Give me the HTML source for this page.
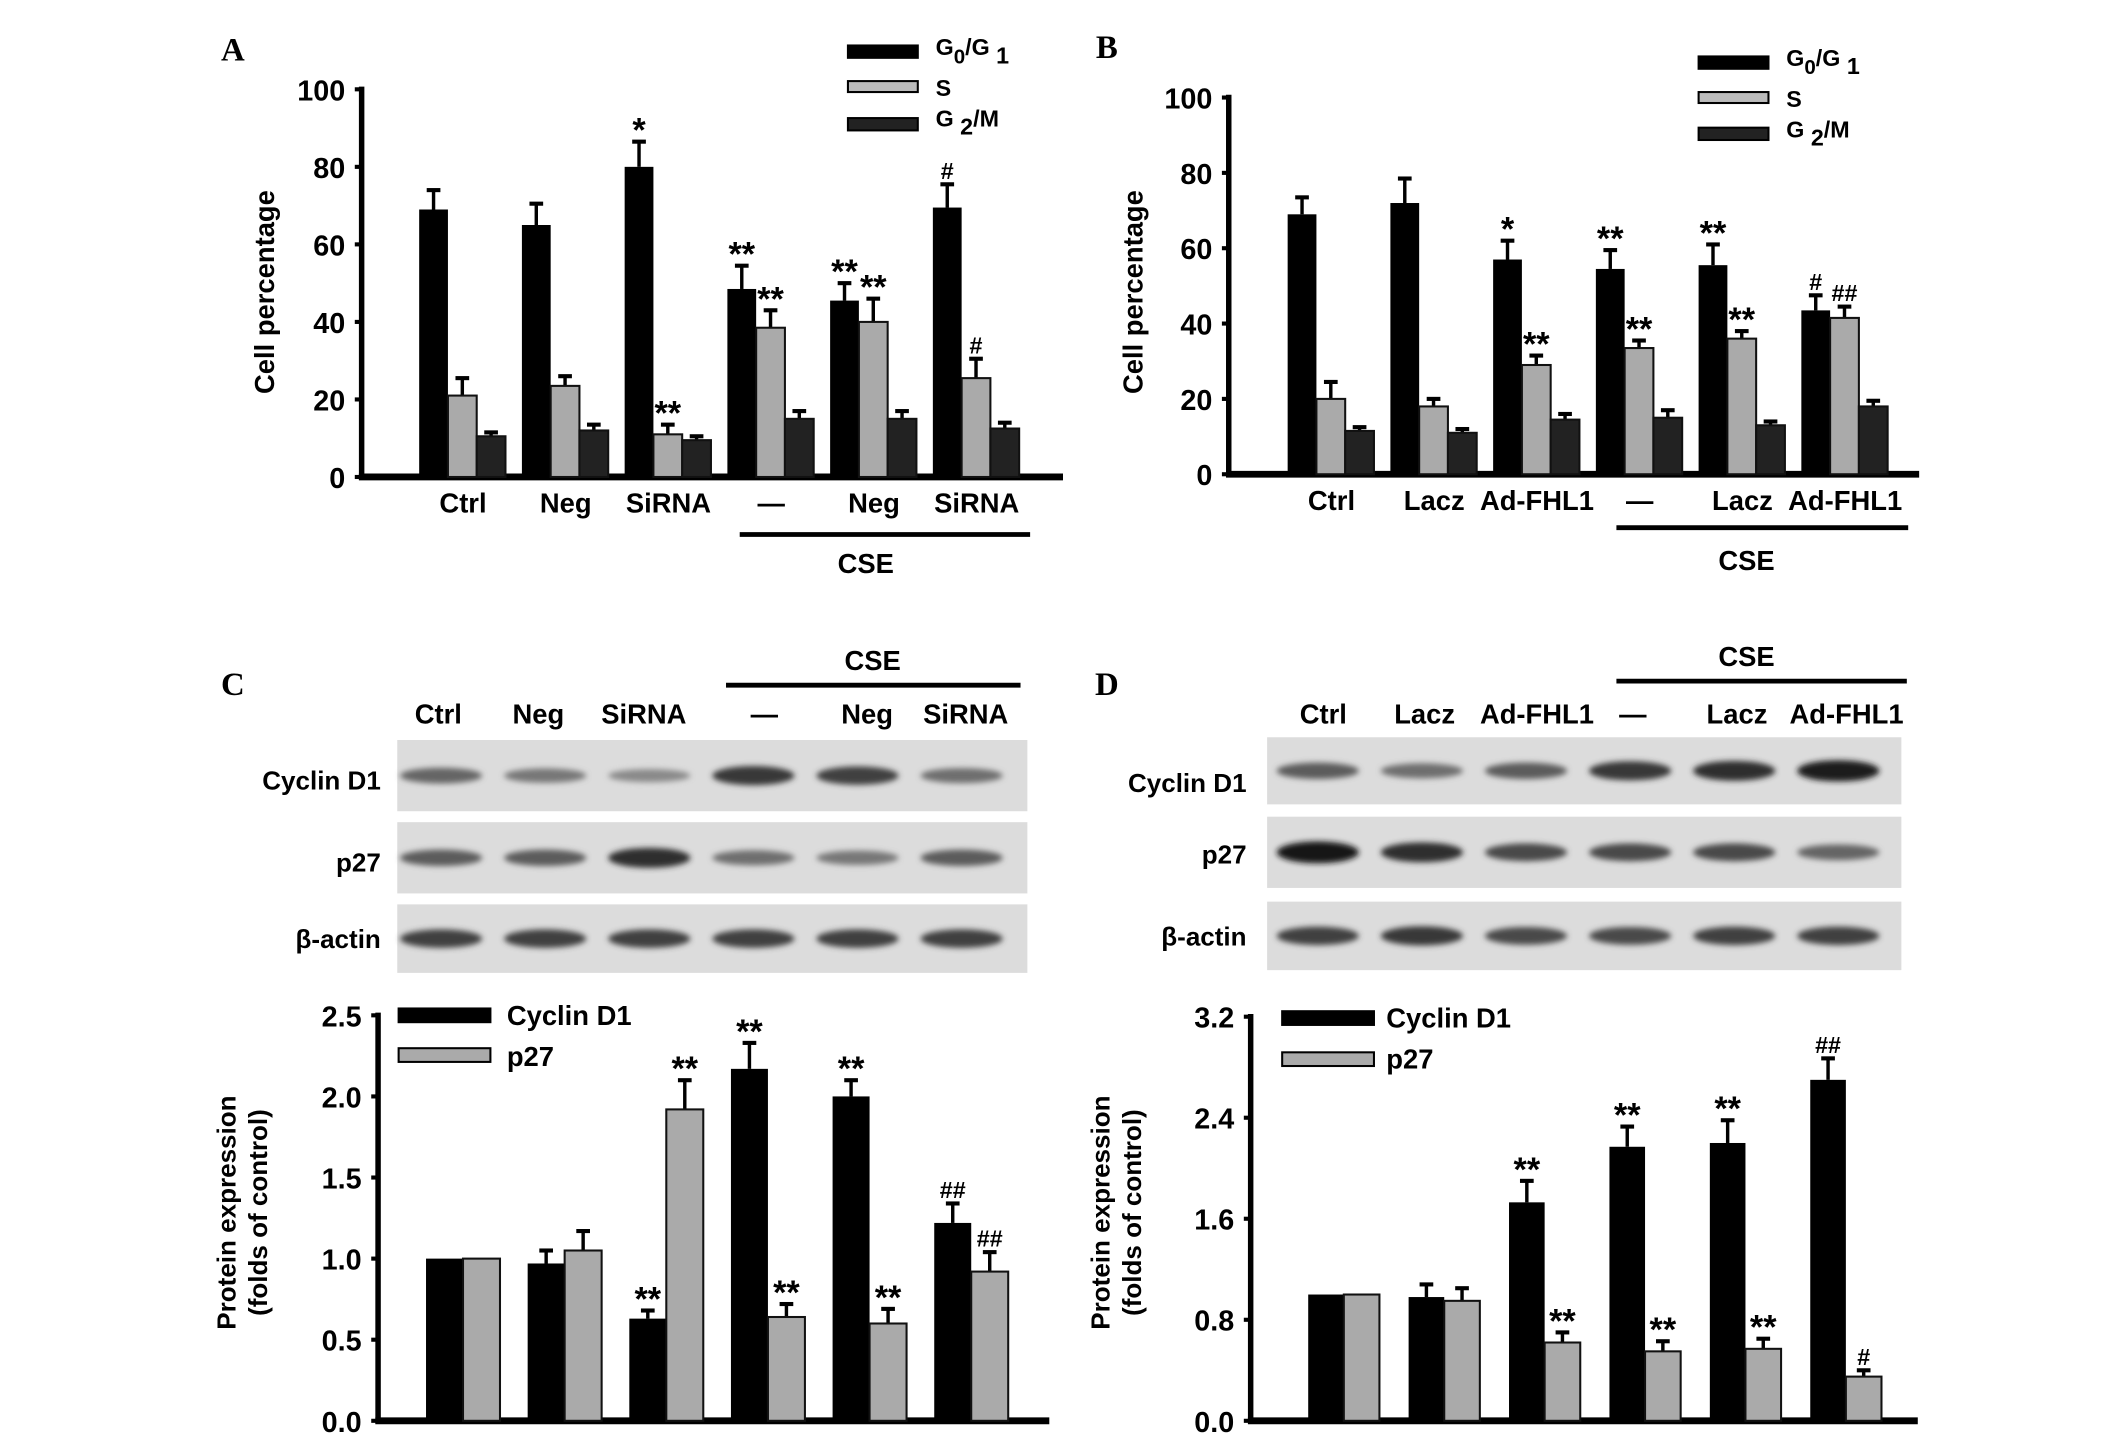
<!DOCTYPE html>
<html><head><meta charset="utf-8"><style>
html,body{margin:0;padding:0;background:#fff;}
svg{display:block;}
text{font-family:"Liberation Sans",Arial,sans-serif;font-weight:bold;fill:#000;}
</style></head><body>
<svg id="fig" width="2126" height="1443" viewBox="0 0 1552 1053" xmlns="http://www.w3.org/2000/svg">
<defs><filter id="blur" x="-20%" y="-100%" width="140%" height="300%"><feGaussianBlur stdDeviation="2.2"/></filter></defs>
<g id="root"></g>
</svg>
<script>
// Panel A data
const catsA = ["Ctrl","Neg","SiRNA","—","Neg","SiRNA"];
const aG0 = [69,65,80,48.5,45.5,69.5];
const aG0e = [5,5.5,6.5,6,4.5,6];
const aS = [21,23.5,11,38.5,40,25.5];
const aSe = [4.5,2.5,2.5,4.5,6,5];
const aG2 = [10.5,12,9.5,15,15,12.5];
const aG2e = [1,1.5,1,2,2,1.5];
const aAnnG0 = ["","","*","**","**","#"];
const aAnnS = ["","","**","**","**","#"];
const ticksA = [0,20,40,60,80,100];
// Panel B data
const catsB = ["Ctrl","Lacz","Ad-FHL1","—","Lacz","Ad-FHL1"];
const bG0 = [69,72,57,54.5,55.5,43.5];
const bG0e = [4.5,6.5,5,5,5.5,4];
const bS = [20,18,29,33.5,36,41.5];
const bSe = [4.5,2,2.5,2,2,3];
const bG2 = [11.5,11,14.5,15,13,18];
const bG2e = [1,1,1.5,2,1,1.5];
const bAnnG0 = ["","","*","**","**","#"];
const bAnnS = ["","","**","**","**","##"];
const ticksB = [0,20,40,60,80,100];
// Panel C data
const cCyc = [1,0.97,0.63,2.17,2.0,1.22];
const cCyce = [0,0.08,0.05,0.16,0.1,0.12];
const cP27 = [1,1.05,1.92,0.64,0.6,0.92];
const cP27e = [0,0.12,0.18,0.08,0.09,0.12];
const cAnnCyc = ["","","**","**","**","##"];
const cAnnP = ["","","**","**","**","##"];
const ticksC = [0,0.5,1.0,1.5,2.0,2.5];
// Panel D data
const dCyc = [1,0.98,1.73,2.17,2.2,2.7];
const dCyce = [0,0.1,0.17,0.16,0.18,0.17];
const dP27 = [1,0.95,0.62,0.55,0.57,0.35];
const dP27e = [0,0.1,0.08,0.08,0.08,0.05];
const dAnnCyc = ["","","**","**","**","##"];
const dAnnP = ["","","**","**","**","#"];
const ticksD = [0,0.8,1.6,2.4,3.2];
// Blot band intensities (0-1)
const cBandCyc = [0.55,0.45,0.35,0.8,0.75,0.5];
const cBandP27 = [0.6,0.6,0.85,0.5,0.45,0.6];
const cBandAct = [0.75,0.75,0.75,0.75,0.75,0.75];
const dBandCyc = [0.6,0.5,0.6,0.8,0.85,0.95];
const dBandP27 = [1.0,0.85,0.7,0.7,0.7,0.55];
const dBandAct = [0.75,0.8,0.7,0.7,0.75,0.75];

const NS="http://www.w3.org/2000/svg";
const root=document.getElementById('root');
function el(tag,attrs,parent,txt){const e=document.createElementNS(NS,tag);for(const k in attrs)e.setAttribute(k,attrs[k]);if(txt!==undefined)e.textContent=txt;(parent||root).appendChild(e);return e;}

function chart(cfg){
  const g=el('g',{});
  
  
  const y=v=>cfg.y0-(v-cfg.min)/(cfg.max-cfg.min)*(cfg.y0-cfg.y1);
  const ax=el('line',{x1:cfg.ax,y1:cfg.y1-2,x2:cfg.ax,y2:cfg.y0+2,stroke:'#000','stroke-width':4},g);
  
  
  const xa=el('line',{x1:cfg.ax-2,y1:cfg.y0,x2:cfg.axEnd,y2:cfg.y0,stroke:'#000','stroke-width':5},g);
  
  
  cfg.ticks.forEach(t=>{
    el('line',{x1:cfg.ax-5,y1:y(t),x2:cfg.ax,y2:y(t),stroke:'#000','stroke-width':3},g);
    const tl=el('text',{x:cfg.ax-12,y:y(t)+8,'text-anchor':'end','font-size':21},g,cfg.fmt(t));
    
    
  });
  cfg.series.forEach((s,si)=>{
    s.vals.forEach((v,i)=>{
      const x=cfg.x0+i*cfg.step+si*cfg.bw;
      const top=y(v);
      const e=s.err[i];
      if(e>0){
        el('line',{x1:x+cfg.bw/2,y1:top,x2:x+cfg.bw/2,y2:y(v+e),stroke:'#000','stroke-width':2.5},g);
        el('line',{x1:x+cfg.bw/2-5,y1:y(v+e),x2:x+cfg.bw/2+5,y2:y(v+e),stroke:'#000','stroke-width':3},g);
      }
      const r=el('rect',{x:x,y:top,width:cfg.bw,height:cfg.y0-top,fill:s.fill,stroke:'#111','stroke-width':s.fill=='#000'?0:1.5},g);
      
      
      if(s.ann && s.ann[i]){
        const isHash=s.ann[i][0]=='#';
        const a=el('text',{x:x+cfg.bw/2,y:y(v+e)-(isHash?4:0),'text-anchor':'middle','font-size':isHash?17:25},g,s.ann[i]);
        
        
      }
    });
  });
  return g;
}
function txt(x,y,s,size,name,anchor,extra){
  const t=el('text',Object.assign({x:x,y:y,'font-size':size,'text-anchor':anchor||'middle'},extra||{}),root,s);
  
  
  return t;
}
function line(x1,y1,x2,y2,w,name){
  const l=el('line',{x1:x1,y1:y1,x2:x2,y2:y2,stroke:'#000','stroke-width':w});
  
  
}
function swatch(x,y,w,h,fill,name){
  const r=el('rect',{x:x,y:y,width:w,height:h,fill:fill,stroke:'#000','stroke-width':1.5});
  
  
}

const fmt0=t=>String(t);
chart({name:'chart-a',ax:264,axEnd:776,y0:348,y1:65,min:0,max:100,ticks:ticksA,fmt:fmt0,x0:306,step:75,bw:21,
  series:[{key:'g0g1',vals:aG0,err:aG0e,fill:'#000',ann:aAnnG0},{key:'s',vals:aS,err:aSe,fill:'#aaa',ann:aAnnS},{key:'g2m',vals:aG2,err:aG2e,fill:'#222'}]});
catsA.forEach((c,i)=>txt(306+i*75+32,374,c,20,'x-label-a'));
txt(200,213,'Cell percentage',20,'y-axis-title-a','middle',{transform:'rotate(-90 200 213)'});
line(540,390,752,390,3.5,'cse-bracket-a'); txt(632,418,'CSE',20,'cse-label-a');
txt(170,44,'A',24,'panel-label-a','middle',{style:'font-family:"Liberation Serif",serif'});
swatch(619,33,51,9,'#000','legend-swatch-g0g1-a');swatch(619,59,51,8,'#bbb','legend-swatch-s-a');swatch(619,86,51,9,'#222','legend-swatch-g2m-a');
txt(683,40,'G',17,'legend-g0g1-a','start').innerHTML='G<tspan dy="6" font-size="15">0</tspan><tspan dy="-6">/G</tspan><tspan dy="6"> 1</tspan>';
txt(683,70,'S',17,'legend-s-a','start');
txt(683,92,'G',17,'legend-g2m-a','start').innerHTML='G<tspan dy="6"> 2</tspan><tspan dy="-6">/M</tspan>';

chart({name:'chart-b',ax:897,axEnd:1401,y0:346,y1:71,min:0,max:100,ticks:ticksB,fmt:fmt0,x0:940,step:75,bw:21,
  series:[{key:'g0g1',vals:bG0,err:bG0e,fill:'#000',ann:bAnnG0},{key:'s',vals:bS,err:bSe,fill:'#aaa',ann:bAnnS},{key:'g2m',vals:bG2,err:bG2e,fill:'#222'}]});
catsB.forEach((c,i)=>txt(940+i*75+32,372,c,20,'x-label-b'));
txt(834,213,'Cell percentage',20,'y-axis-title-b','middle',{transform:'rotate(-90 834 213)'});
line(1180,385,1393,385,3.5,'cse-bracket-b'); txt(1275,416,'CSE',20,'cse-label-b');
txt(808,42,'B',24,'panel-label-b','middle',{style:'font-family:"Liberation Serif",serif'});
swatch(1240,41,51,9,'#000','legend-swatch-g0g1-b');swatch(1240,67,51,8,'#bbb','legend-swatch-s-b');swatch(1240,93,51,9,'#222','legend-swatch-g2m-b');
txt(1304,48,'G',17,'legend-g0g1-b','start').innerHTML='G<tspan dy="6" font-size="15">0</tspan><tspan dy="-6">/G</tspan><tspan dy="6"> 1</tspan>';
txt(1304,78,'S',17,'legend-s-b','start');
txt(1304,100,'G',17,'legend-g2m-b','start').innerHTML='G<tspan dy="6"> 2</tspan><tspan dy="-6">/M</tspan>';

function blot(x0,x1,ys,bands,lane0,laneStep,name){
  ys.forEach((yy,k)=>{
    const r=el('rect',{x:x0,y:yy[0],width:x1-x0,height:yy[1]-yy[0],fill:'#dcdcdc'});
    
    
    const cy=(yy[0]+yy[1])/2;
    bands[k].forEach((v,i)=>{
      const c=Math.round(200-180*v);
      const b=el('ellipse',{cx:lane0+i*laneStep,cy:cy,rx:30,ry:3+5*v,fill:'rgb('+c+','+c+','+c+')',filter:'url(#blur)'});
      
      
    });
  });
}
blot(290,750,[[540,592],[600,652],[660,710]],[cBandCyc,cBandP27,cBandAct],322,76,'blot-c');
blot(925,1388,[[538,587],[596,648],[658,708]],[dBandCyc,dBandP27,dBandAct],962,76,'blot-d');
["Ctrl","Neg","SiRNA","—","Neg","SiRNA"].forEach((c,i)=>txt([320,393,470,558,633,705][i],528,c,20,'lane-label-c'));
["Ctrl","Lacz","Ad-FHL1","—","Lacz","Ad-FHL1"].forEach((c,i)=>txt([966,1040,1122,1192,1268,1348][i],528,c,20,'lane-label-d'));
line(530,500,745,500,3.5,'cse-bracket-c'); txt(637,489,'CSE',20,'cse-label-c');
line(1180,497,1392,497,3.5,'cse-bracket-d'); txt(1275,486,'CSE',20,'cse-label-d');
txt(278,576,'Cyclin D1',19,'row-label-cyclin-c','end');txt(278,636,'p27',19,'row-label-p27-c','end');txt(278,692,'β-actin',19,'row-label-actin-c','end');
txt(910,578,'Cyclin D1',19,'row-label-cyclin-d','end');txt(910,630,'p27',19,'row-label-p27-d','end');txt(910,690,'β-actin',19,'row-label-actin-d','end');
txt(170,507,'C',24,'panel-label-c','middle',{style:'font-family:"Liberation Serif",serif'});
txt(808,507,'D',24,'panel-label-d','middle',{style:'font-family:"Liberation Serif",serif'});

const fmt1=t=>t.toFixed(1);
chart({name:'chart-c',ax:276,axEnd:766,y0:1037,y1:741,min:0,max:2.5,ticks:ticksC,fmt:fmt1,x0:311,step:74.2,bw:27,
  series:[{key:'cyclin-d1',vals:cCyc,err:cCyce,fill:'#000',ann:cAnnCyc},{key:'p27',vals:cP27,err:cP27e,fill:'#aaa',ann:cAnnP}]});
swatch(291,736,67,10,'#000','legend-swatch-cyclin-c');swatch(291,765,67,10,'#aaa','legend-swatch-p27-c');
txt(370,748,'Cyclin D1',20,'legend-cyclin-c','start');txt(370,778,'p27',20,'legend-p27-c','start');
txt(172,885,'Protein expression',19,'y-axis-title-c','middle',{transform:'rotate(-90 172 885)'});
txt(195,885,'(folds of control)',19,'y-axis-subtitle-c','middle',{transform:'rotate(-90 195 885)'});

chart({name:'chart-d',ax:913,axEnd:1400,y0:1037,y1:742,min:0,max:3.2,ticks:ticksD,fmt:fmt1,x0:955,step:73.3,bw:26,
  series:[{key:'cyclin-d1',vals:dCyc,err:dCyce,fill:'#000',ann:dAnnCyc},{key:'p27',vals:dP27,err:dP27e,fill:'#aaa',ann:dAnnP}]});
swatch(936,738,67,10,'#000','legend-swatch-cyclin-d');swatch(936,768,67,10,'#aaa','legend-swatch-p27-d');
txt(1012,750,'Cyclin D1',20,'legend-cyclin-d','start');txt(1012,780,'p27',20,'legend-p27-d','start');
txt(810,885,'Protein expression',19,'y-axis-title-d','middle',{transform:'rotate(-90 810 885)'});
txt(833,885,'(folds of control)',19,'y-axis-subtitle-d','middle',{transform:'rotate(-90 833 885)'});
</script>
</body></html>
